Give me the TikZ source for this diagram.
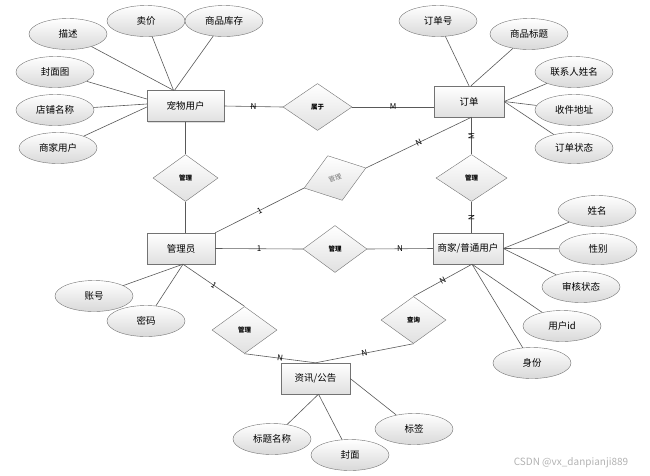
\documentclass[tikz,border=0pt]{standalone}
\usepackage{fontspec}
\setmainfont{Noto Sans CJK SC}
\usetikzlibrary{shapes.geometric,shadows}

\begin{document}
\begin{tikzpicture}[x=1pt,y=-1pt,
	entity/.style={draw=black!55, top color=white, bottom color=black!12, minimum width=70pt, minimum height=31pt, inner sep=0pt, font=\fontsize{9.5}{11}\selectfont, drop shadow={shadow xshift=1pt, shadow yshift=-1pt, opacity=0.25}},
	attr/.style={ellipse, draw=black!55, top color=white, bottom color=black!15, minimum width=78pt, minimum height=31pt, inner sep=0pt, font=\fontsize{9.5}{11}\selectfont},
	rel/.style={diamond, draw=black!55, top color=white, bottom color=black!12, minimum width=65pt, minimum height=47pt, inner sep=0pt, font=\fontsize{6.5}{7}\selectfont\bfseries},
	link/.style={draw=black!65, line width=0.6pt},
	lbl/.style={inner sep=0.5pt, font=\fontsize{8}{9}\selectfont}]
		\useasboundingbox (0,0) rectangle (650,475);
		% Entidades
		\node[entity, minimum width=77pt] (pet) at (185.5,106) {宠物用户};
		\node[entity] (order) at (469,101.5) {订单};
		\node[entity, minimum width=68pt] (admin) at (181,248.5) {管理员};
		\node[entity] (merchant) at (468,248.5) {商家/普通用户};
		\node[entity, minimum width=69pt] (news) at (315.5,378.5) {资讯/公告};
		% Relacionamentos
		\node[rel, minimum width=69pt] (belong) at (317.5,107) {属于};
		\node[rel] (mgpet) at (185.5,178) {管理};
		\node[rel, minimum width=71pt] (mgord) at (471.5,178) {管理};
		\node[rel, rotate=18, text=black!55, font=\fontsize{6.5}{7}\selectfont] (mgadm) at (335,178) {管理};
		\node[rel, minimum width=64pt] (mgmer) at (335,249) {管理};
		\node[rel] (mgnews) at (244.5,330) {管理};
		\node[rel] (query) at (413.5,320) {查询};
		% Atributos de pet
		\node[attr] (desc) at (68,34) {描述};
		\node[attr] (price) at (146,21) {卖价};
		\node[attr] (stock) at (224,21) {商品库存};
		\node[attr] (cover) at (55,72) {封面图};
		\node[attr] (shop) at (55,110) {店铺名称};
		\node[attr] (biz) at (58,148) {商家用户};
		% Atributos de order
		\node[attr] (ordno) at (438,21) {订单号};
		\node[attr] (title) at (529,34) {商品标题};
		\node[attr] (contact) at (574,72) {联系人姓名};
		\node[attr] (addr) at (574,110) {收件地址};
		\node[attr] (ostate) at (574,148) {订单状态};
		% Atributos de merchant
		\node[attr] (name) at (597,211) {姓名};
		\node[attr] (gender) at (598,249) {性别};
		\node[attr] (audit) at (581,287) {审核状态};
		\node[attr] (uid) at (562,326) {用户id};
		\node[attr] (ident) at (532,363) {身份};
		% Atributos de admin
		\node[attr] (acct) at (94,296) {账号};
		\node[attr] (pwd) at (146,321) {密码};
		% Atributos de news
		\node[attr] (ntitle) at (272,439) {标题名称};
		\node[attr] (ncover) at (350,455) {封面};
		\node[attr] (tag) at (414,429) {标签};
		% Marca
		\node[font=\fontsize{10}{11}\selectfont, text=black!30] (mark) at (571,463) {CSDN @vx\_danpianji889};
		% Ligacoes dos atributos
		\draw[link] (desc) -- ([xshift=-12pt]pet.north);
		\draw[link] (price) -- ([xshift=-12pt]pet.north);
		\draw[link] (stock) -- ([xshift=-11pt]pet.north);
		\draw[link] (cover) -- ([yshift=7pt]pet.west);
		\draw[link] (shop) -- ([yshift=2pt]pet.west);
		\draw[link] (biz) -- ([yshift=-1pt]pet.west);
		\draw[link] (ordno) -- (order.north);
		\draw[link] (title) -- ([xshift=2pt]order.north);
		\draw[link] (contact) -- (order.east);
		\draw[link] (addr) -- (order.east);
		\draw[link] (ostate) -- (order.east);
		\draw[link] (name) -- (merchant.east);
		\draw[link] (gender) -- (merchant.east);
		\draw[link] (audit) -- (merchant.east);
		\draw[link] (uid) -- ([xshift=4pt]merchant.south);
		\draw[link] (ident) -- ([xshift=4pt]merchant.south);
		\draw[link] (acct) -- ([xshift=2pt]admin.south);
		\draw[link] (pwd) -- ([xshift=2pt]admin.south);
		\draw[link] (ntitle) -- ([xshift=3pt]news.south);
		\draw[link] (ncover) -- ([xshift=3pt]news.south);
		\draw[link] (tag) -- (news.east);
		% Ligacoes dos relacionamentos
		\draw[link] (pet.east) -- node[lbl] {N} (belong.west);
		\draw[link] (belong.east) -- node[lbl] {M} (belong.east -| order.west);
		\draw[link] (pet.south -| mgpet.north) -- (mgpet.north);
		\draw[link] (mgpet.south) -- (mgpet.south |- admin.north);
		\draw[link] (admin.north east) -- node[lbl, sloped] {1} (mgadm.west);
		\draw[link] (mgadm.east) -- node[lbl, sloped] {N} ([xshift=2.5pt]order.south);
		\draw[link] (mgord.north |- order.south) -- node[lbl, rotate=90] {M} (mgord.north);
		\draw[link] (mgord.south) -- node[lbl, rotate=90] {N} (mgord.south |- merchant.north);
		\draw[link] (admin.east) -- node[lbl] {1} (mgmer.west);
		\draw[link] (mgmer.east) -- node[lbl] {N} (merchant.west);
		\draw[link] ([xshift=2pt]admin.south) -- node[lbl, sloped] {1} (mgnews.north);
		\draw[link] (mgnews.south) -- node[lbl, sloped] {N} (news.north);
		\draw[link] ([xshift=4pt]merchant.south) -- node[lbl, sloped] {N} (query.north);
		\draw[link] (query.south) -- node[lbl, sloped] {N} (news.north);
	\end{tikzpicture}
\end{document}
